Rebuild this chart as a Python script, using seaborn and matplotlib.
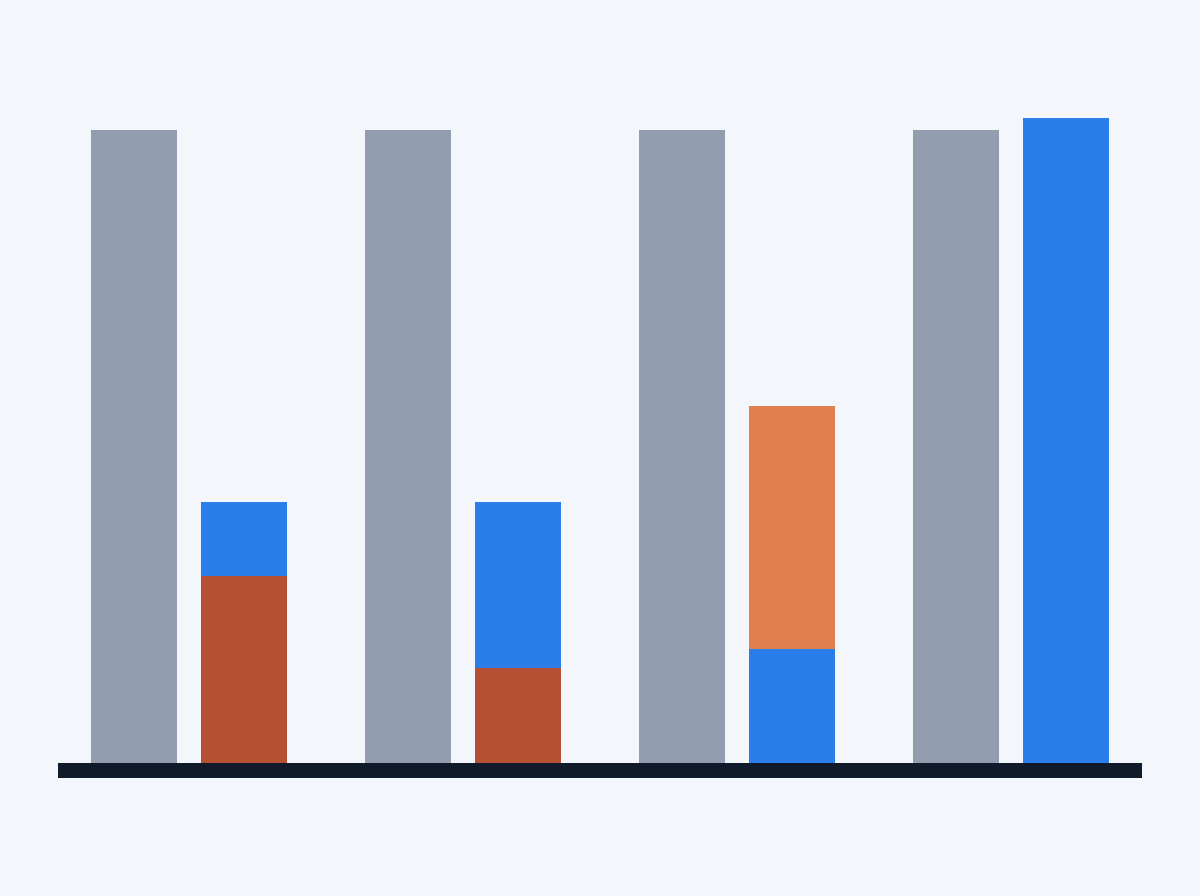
import numpy as np
import pandas as pd
import matplotlib
matplotlib.use("Agg")
import matplotlib.pyplot as plt
import seaborn as sns

# ---- data ----
groups = ["A", "B", "C", "D"]
reference = [100, 100, 100, 100]
lower_segment = [30.2, 15.8, 18.8, 101.9]
upper_segment = [11.6, 26.0, 38.0, 0.0]
lower_colors = ["#b55035", "#b55035", "#2b7de9", "#2b7de9"]
upper_colors = ["#2b7de9", "#2b7de9", "#e0804c", "#2b7de9"]
ref_color = "#929eb0"
bg_color = "#f3f6fb"
base_color = "#111a2b"

sns.set_theme(style="white")
fig = plt.figure(figsize=(12, 8.96), dpi=100, facecolor=bg_color)
ax = fig.add_axes([58 / 1200, 0, 1084 / 1200, 1])
ax.set_facecolor(bg_color)

totals = [l + u for l, u in zip(lower_segment, upper_segment)]

def layer(values_a, values_b, colors_a, colors_b):
    df = pd.DataFrame({
        "group": groups * 2,
        "slot": ["a"] * len(groups) + ["b"] * len(groups),
        "value": list(values_a) + list(values_b),
    })
    n_before = len(ax.patches)
    sns.barplot(data=df, x="group", y="value", hue="slot", hue_order=["a", "b"],
                order=groups, width=0.803, gap=0.217, dodge=True,
                palette=["#000000", "#000000"], legend=False, ax=ax,
                saturation=1, errorbar=None, linewidth=0)
    new = ax.patches[n_before:]
    cols = list(colors_a) + list(colors_b)
    for p, c in zip(new, cols):
        p.set_facecolor(c)
        p.set_edgecolor("none")

# totals (upper segment color), with reference bars in slot a
layer(reference, totals, [ref_color] * 4, upper_colors)
# lower segments overlaid
layer([0] * 4, lower_segment, [ref_color] * 4, lower_colors)

ax.axhline(0, color=base_color, linewidth=15 * 0.72, zorder=5)

ax.set_xlim(-0.478, 3.478)
scale = 100 / 639.5
ax.set_ylim(-(896 - 769.5) * scale, 769.5 * scale)
ax.set_xlabel("")
ax.set_ylabel("")
ax.set_xticks([])
ax.set_yticks([])
for s in ax.spines.values():
    s.set_visible(False)

fig.savefig("out.png", dpi=100, facecolor=bg_color)
